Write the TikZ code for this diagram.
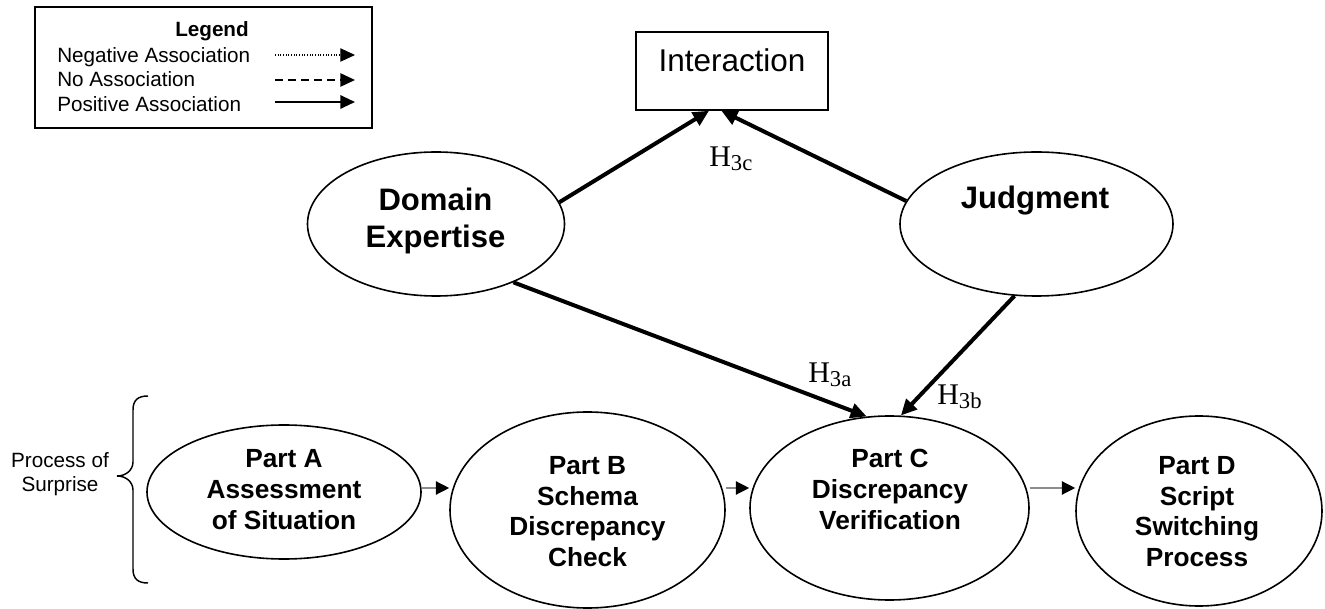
\documentclass[tikz,border=0pt]{standalone}
\usepackage{fontspec}
\setmainfont{Liberation Sans}
\newfontfamily\tnr{Liberation Serif}
\usetikzlibrary{shapes.geometric,arrows.meta}
\tikzset{
  ell/.style={ellipse, draw, line width=1.2pt, inner sep=0pt},
  bigtxt/.style={font=\bfseries\fontsize{23.3}{27.8}\selectfont, align=center, inner sep=0pt},
  parttxt/.style={font=\bfseries\fontsize{19.7}{23}\selectfont, align=center, inner sep=0pt},
  smalltxt/.style={font=\fontsize{15.5}{18}\selectfont, align=center, inner sep=0pt},
  legtxt/.style={font=\fontsize{15.5}{18.4}\selectfont, inner sep=0pt, anchor=base west},
  hyp/.style={font=\tnr\fontsize{22.5}{24}\selectfont, inner sep=0pt, anchor=base west},
  assoc/.style={line width=3pt, -{Triangle[length=12pt,width=11pt]}},
  flow/.style={draw=black!45, line width=1pt, -{Triangle[length=10pt,width=10pt,color=black]}},
  legarr/.style={-{Triangle[length=11pt,width=10pt]}},
}
\newcommand{\hsub}[1]{H\raisebox{-3pt}{\fontsize{17}{17}\selectfont #1}}
\begin{document}
\begin{tikzpicture}[x=0.75pt,y=-0.75pt]
\useasboundingbox (0,0) rectangle (1325,609);

% Legend
\node[draw, line width=1.5pt, minimum width=252.75pt, minimum height=90.75pt, inner sep=0pt] (legbox) at (203.5,67.5) {};
\node[font=\bfseries\fontsize{15.5}{18.4}\selectfont, inner sep=0pt, anchor=base] (legT) at (212,37) {Legend};
\node[legtxt] (neg) at (57,63) {Negative Association};
\node[legtxt] (noa) at (57,87) {No Association};
\node[legtxt] (pos) at (57,112) {Positive Association};
\coordinate (l1s) at (275,55); \coordinate (l1e) at (355,55);
\coordinate (l2s) at (275,80); \coordinate (l2e) at (355,80);
\coordinate (l3s) at (275,102); \coordinate (l3e) at (355,102);
\draw[legarr, line width=0.8pt, dash pattern=on 0.8pt off 1.2pt] (l1s) -- (l1e);
\draw[legarr, line width=1.1pt, dash pattern=on 6pt off 3.75pt] (l2s) -- (l2e);
\draw[legarr, line width=1.5pt] (l3s) -- (l3e);

% Interaction
\node[draw, line width=1.1pt, minimum width=144pt, minimum height=58.5pt, inner sep=0pt,
      text height=17pt, text depth=15.5pt, font=\fontsize{23.6}{26}\selectfont] (inter) at (732,71) {Interaction};

% Upper ellipses
\node[ell, minimum width=192.75pt, minimum height=108pt] (dom) at (436,224) {};
\node[bigtxt] (domT) at (435.5,220.6) {Domain\\Expertise};
\node[ell, minimum width=204.75pt, minimum height=108pt] (jud) at (1036.5,224) {};
\node[bigtxt] (judT) at (1035,201) {Judgment};

% Bottom process ellipses
\node[ell, minimum width=205.5pt, minimum height=100.5pt] (pa) at (284,492) {};
\node[parttxt] (paT) at (284,489.6) {Part A\\Assessment\\of Situation};
\node[ell, minimum width=206.25pt, minimum height=147pt] (pb) at (587.5,510) {};
\node[parttxt] (pbT) at (587.5,511.6) {Part B\\Schema\\Discrepancy\\Check};
\node[ell, minimum width=209.25pt, minimum height=138pt] (pc) at (889.5,508) {};
\node[parttxt] (pcT) at (890,489.6) {Part C\\Discrepancy\\Verification};
\node[ell, minimum width=184.5pt, minimum height=142.5pt] (pd) at (1199,511) {};
\node[parttxt] (pdT) at (1197,511.6) {Part D\\Script\\Switching\\Process};

% Process of surprise
\node[smalltxt] (proc) at (60,474.5) {Process of\\Surprise};
\draw[line width=1.1pt] (148,396) .. controls (138,396) and (133,400) .. (133,410) -- (133,462)
  .. controls (133,470) and (126,476) .. (117,476)
  .. controls (126,476) and (133,482) .. (133,490) -- (133,569)
  .. controls (133,579) and (138,583) .. (148,583);

% Hypothesis arrows
\draw[assoc] (dom.10.5) -- (inter.240.6);
\draw[assoc] (jud.170.1) -- (inter.255.6);
\draw[assoc] (dom.-37.7) -- (pc.104.6);
\draw[assoc] (jud.253.4) -- (pc.83.7);

\node[hyp] (h3c) at (709,167) {\hsub{3c}};
\node[hyp] (h3a) at (808,383) {\hsub{3a}};
\node[hyp] (h3b) at (937,405) {\hsub{3b}};

% Process flow
\coordinate (row) at (0,488);
\draw[flow] (pa.east |- row) -- (pb.west |- row);
\draw[flow] (pb.east |- row) -- (pc.west |- row);
\draw[flow] (pc.east |- row) -- (pd.west |- row);
\end{tikzpicture}
\end{document}
